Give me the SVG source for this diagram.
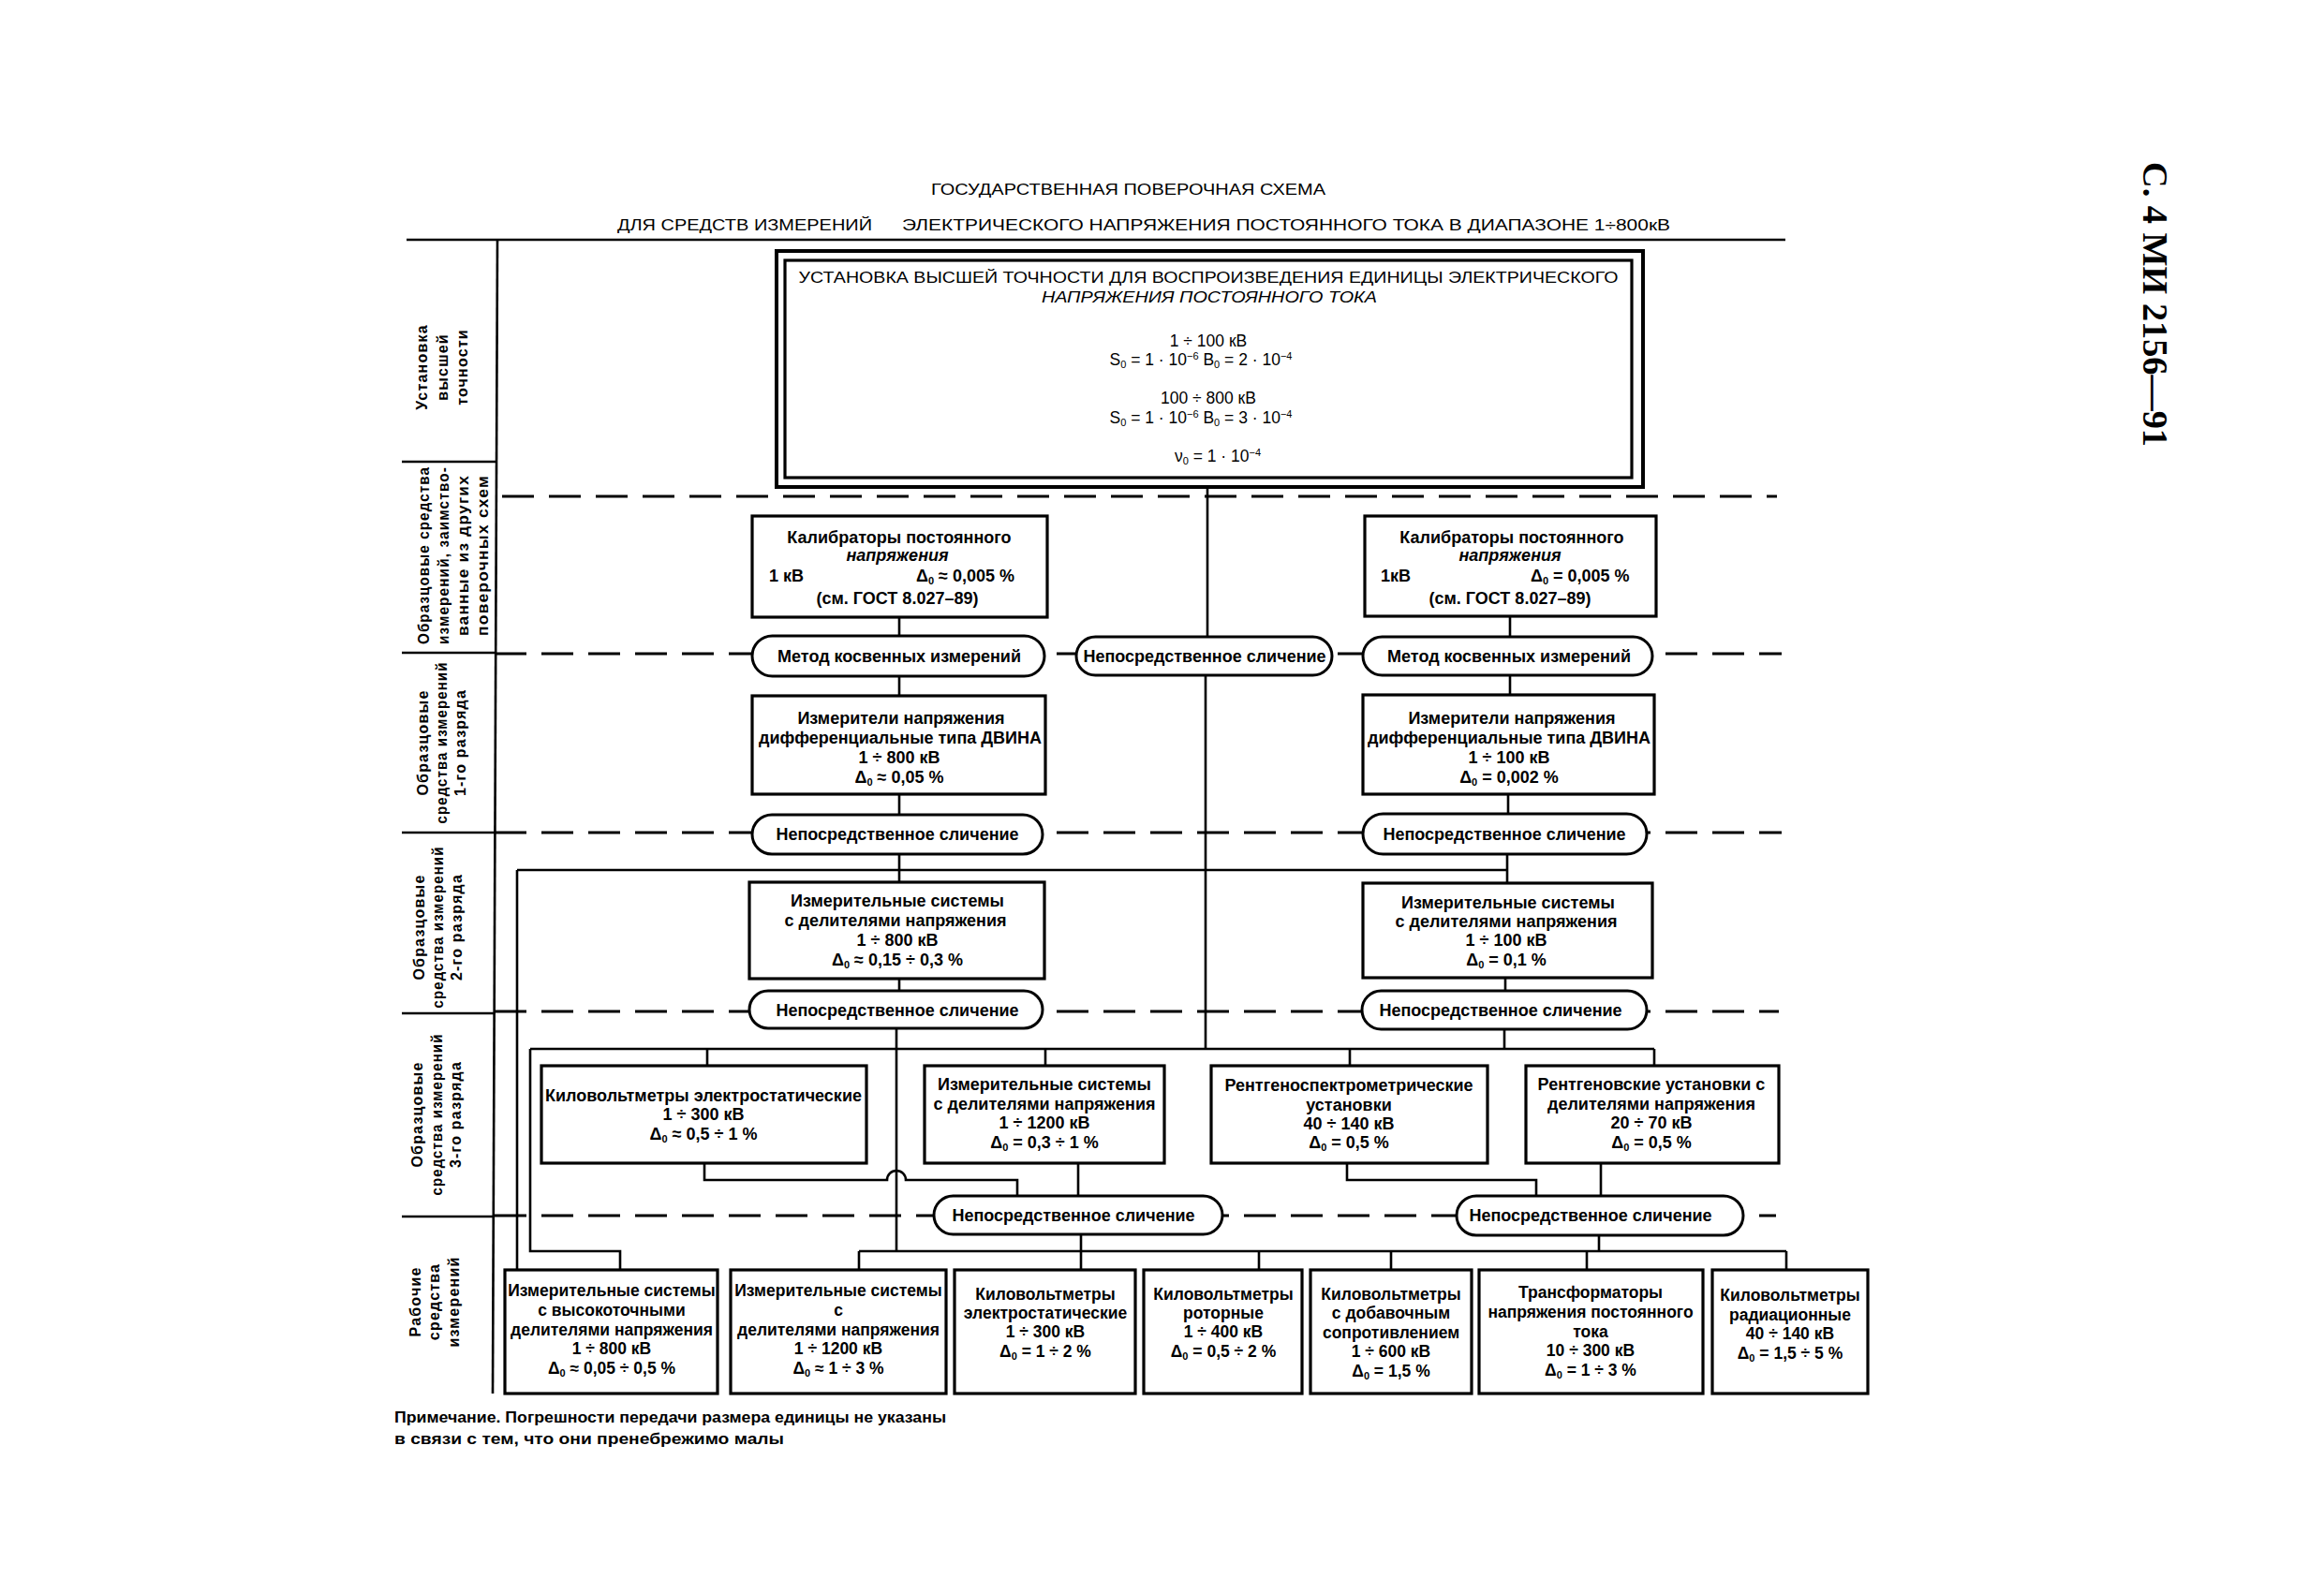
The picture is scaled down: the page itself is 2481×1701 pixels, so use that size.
<svg xmlns="http://www.w3.org/2000/svg" width="2481" height="1701" viewBox="0 0 2481 1701">
<style>
.bg{fill:#fff}
.box{fill:#fff;stroke:#000;stroke-width:3.2}
.oval{fill:#fff;stroke:#000;stroke-width:3}
.con{fill:none;stroke:#000;stroke-width:2.6}
.sol{fill:none;stroke:#000;stroke-width:2.6}
.dash{fill:none;stroke:#000;stroke-width:2.8;stroke-dasharray:34 16}
text{font-family:"Liberation Sans",Arial,sans-serif;fill:#000}
.t{font-size:18px;font-weight:bold;text-anchor:middle}
.tl{font-size:18px;font-weight:bold}
.w .t{font-size:17.5px}
.h{font-size:17px;text-anchor:middle}
.hs{font-size:17.5px;text-anchor:middle}
.ti{font-size:17px}
.lbl{font-size:16px;font-weight:bold;letter-spacing:1.2px;text-anchor:middle}
.note{font-size:16px;font-weight:bold}
.hdr{font-family:"Liberation Serif","Times New Roman",serif;font-size:38px;font-weight:bold}
.it{font-style:italic}
.s{font-size:11px}
</style>
<rect class="bg" x="0" y="0" width="2481" height="1701"/>

<g id="header">
<text class="hdr" transform="translate(2288,173) rotate(90)" textLength="304" lengthAdjust="spacingAndGlyphs">С. 4 МИ 2156—91</text>
</g>

<g id="title">
<text class="ti" x="994" y="208" textLength="421" lengthAdjust="spacingAndGlyphs">ГОСУДАРСТВЕННАЯ ПОВЕРОЧНАЯ СХЕМА</text>
<text class="ti" x="659" y="246" textLength="272" lengthAdjust="spacingAndGlyphs">ДЛЯ СРЕДСТВ ИЗМЕРЕНИЙ</text>
<text class="ti" x="963" y="246" textLength="820" lengthAdjust="spacingAndGlyphs">ЭЛЕКТРИЧЕСКОГО НАПРЯЖЕНИЯ ПОСТОЯННОГО ТОКА В ДИАПАЗОНЕ 1÷800кВ</text>
</g>

<g id="grid">
<path class="sol" d="M434 256 H1906"/>
<path class="sol" d="M531 256 L526 1488"/>
<path class="sol" d="M429 493 H531 M429 697 H528 M429 889 H528 M429 1082 H528 M429 1299 H528"/>
<path class="dash" d="M536 530 H1897"/>
<path class="dash" d="M528 698 H1902"/>
<path class="dash" d="M528 889 H1902"/>
<path class="dash" d="M528 1080 H1899"/>
<path class="dash" d="M528 1298 H1896"/>
</g>

<g id="row-labels">
<g id="label-1">
<text class="lbl" transform="translate(456,392) rotate(-90)">Установка</text>
<text class="lbl" transform="translate(478,392) rotate(-90)">высшей</text>
<text class="lbl" transform="translate(499,392) rotate(-90)">точности</text>
</g>
<g id="label-2">
<text class="lbl" transform="translate(458,593) rotate(-90)" textLength="190" lengthAdjust="spacingAndGlyphs">Образцовые средства</text>
<text class="lbl" transform="translate(479,593) rotate(-90)" textLength="190" lengthAdjust="spacingAndGlyphs">измерений, заимство-</text>
<text class="lbl" transform="translate(500,593) rotate(-90)" textLength="172" lengthAdjust="spacingAndGlyphs">ванные из других</text>
<text class="lbl" transform="translate(521,593) rotate(-90)" textLength="172" lengthAdjust="spacingAndGlyphs">поверочных схем</text>
</g>
<g id="label-3">
<text class="lbl" transform="translate(457,793) rotate(-90)">Образцовые</text>
<text class="lbl" transform="translate(477,793) rotate(-90)" textLength="173" lengthAdjust="spacingAndGlyphs">средства измерений</text>
<text class="lbl" transform="translate(497,793) rotate(-90)">1-го разряда</text>
</g>
<g id="label-4">
<text class="lbl" transform="translate(453,990) rotate(-90)">Образцовые</text>
<text class="lbl" transform="translate(473,990) rotate(-90)" textLength="173" lengthAdjust="spacingAndGlyphs">средства измерений</text>
<text class="lbl" transform="translate(493,990) rotate(-90)">2-го разряда</text>
</g>
<g id="label-5">
<text class="lbl" transform="translate(451,1190) rotate(-90)">Образцовые</text>
<text class="lbl" transform="translate(472,1190) rotate(-90)" textLength="173" lengthAdjust="spacingAndGlyphs">средства измерений</text>
<text class="lbl" transform="translate(492,1190) rotate(-90)">3-го разряда</text>
</g>
<g id="label-6">
<text class="lbl" transform="translate(449,1390) rotate(-90)">Рабочие</text>
<text class="lbl" transform="translate(469,1390) rotate(-90)">средства</text>
<text class="lbl" transform="translate(490,1390) rotate(-90)">измерений</text>
</g>
</g>

<g id="connectors">
<path class="con" d="M1289 520 V679"/>
<path class="con" d="M1287 721 V1120"/>
<path class="con" d="M960 659 V679 M960 722 V743 M960 848 V870 M960 912 V942 M960 1045 V1058"/>
<path class="con" d="M957 1098 V1336"/>
<path class="con" d="M1612 658 V680 M1612 721 V742 M1610 848 V869 M1609 912 V943 M1607 1044 V1058 M1606 1099 V1120"/>
<path class="con" d="M552 929 H1609 M552 929 V1356"/>
<path class="con" d="M566 1120 H1766 M566 1120 V1336 H662 V1356"/>
<path class="con" d="M755 1120 V1138 M1116 1120 V1138 M1441 1120 V1138 M1766 1120 V1138"/>
<path class="con" d="M752 1242 V1260 H947 A10 10 0 0 1 967 1260 H1086 V1277"/>
<path class="con" d="M1151 1242 V1277"/>
<path class="con" d="M1438 1242 V1260 H1640 V1277"/>
<path class="con" d="M1709 1242 V1277"/>
<path class="con" d="M1154 1318 V1356 M1707 1319 V1336"/>
<path class="con" d="M917 1336 H1907 M917 1336 V1356 M1344 1336 V1356 M1485 1336 V1356 M1694 1336 V1356 M1907 1336 V1356"/>
</g>

<g id="n-top">
<rect class="box" x="829" y="268" width="925" height="252" style="stroke-width:4"/>
<rect class="box" x="838" y="278" width="904" height="232"/>
<text class="h" x="1290" y="302" textLength="875" lengthAdjust="spacingAndGlyphs">УСТАНОВКА ВЫСШЕЙ ТОЧНОСТИ ДЛЯ ВОСПРОИЗВЕДЕНИЯ ЕДИНИЦЫ ЭЛЕКТРИЧЕСКОГО</text>
<text class="h it" x="1291" y="323" textLength="358" lengthAdjust="spacingAndGlyphs">НАПРЯЖЕНИЯ ПОСТОЯННОГО ТОКА</text>
<text class="hs" x="1290" y="370">1 ÷ 100 кВ</text>
<text class="hs" x="1282" y="390">S<tspan class="s" baseline-shift="-3">0</tspan> = 1 · 10<tspan class="s" baseline-shift="6">−6</tspan>  B<tspan class="s" baseline-shift="-3">0</tspan> = 2 · 10<tspan class="s" baseline-shift="6">−4</tspan></text>
<text class="hs" x="1290" y="431">100 ÷ 800 кВ</text>
<text class="hs" x="1282" y="452">S<tspan class="s" baseline-shift="-3">0</tspan> = 1 · 10<tspan class="s" baseline-shift="6">−6</tspan>  B<tspan class="s" baseline-shift="-3">0</tspan> = 3 · 10<tspan class="s" baseline-shift="6">−4</tspan></text>
<text class="hs" x="1300" y="493">ν<tspan class="s" baseline-shift="-3">0</tspan> = 1 · 10<tspan class="s" baseline-shift="6">−4</tspan></text>
</g>

<g id="n-cal-l">
<rect class="box" x="803" y="551" width="315" height="108"/>
<text class="t" x="960" y="580">Калибраторы постоянного</text>
<text class="t it" x="958" y="599">напряжения</text>
<text class="tl" x="821" y="621">1 кВ</text>
<text class="tl" x="978" y="621">Δ<tspan class="s" baseline-shift="-3">0</tspan> ≈ 0,005 %</text>
<text class="t" x="958" y="645">(см. ГОСТ 8.027–89)</text>
</g>
<g id="n-cal-r">
<rect class="box" x="1457" y="551" width="311" height="107"/>
<text class="t" x="1614" y="580">Калибраторы постоянного</text>
<text class="t it" x="1612" y="599">напряжения</text>
<text class="tl" x="1474" y="621">1кВ</text>
<text class="tl" x="1634" y="621">Δ<tspan class="s" baseline-shift="-3">0</tspan> = 0,005 %</text>
<text class="t" x="1612" y="645">(см. ГОСТ 8.027–89)</text>
</g>

<g id="o-met-l">
<rect class="oval" x="803" y="679" width="312" height="43" rx="21.5"/>
<text class="t" x="960" y="707">Метод косвенных измерений</text>
</g>
<g id="o-cmp-c">
<rect class="oval" x="1149" y="680" width="273" height="41" rx="20.5"/>
<text class="t" x="1286" y="707">Непосредственное сличение</text>
</g>
<g id="o-met-r">
<rect class="oval" x="1455" y="680" width="309" height="41" rx="20.5"/>
<text class="t" x="1611" y="707">Метод косвенных измерений</text>
</g>

<g id="n-dvina-l">
<rect class="box" x="803" y="743" width="313" height="105"/>
<text class="t" x="962" y="773">Измерители напряжения</text>
<text class="t" x="961" y="794">дифференциальные типа ДВИНА</text>
<text class="t" x="960" y="815">1 ÷ 800 кВ</text>
<text class="t" x="960" y="836">Δ<tspan class="s" baseline-shift="-3">0</tspan> ≈ 0,05 %</text>
</g>
<g id="n-dvina-r">
<rect class="box" x="1455" y="742" width="311" height="106"/>
<text class="t" x="1614" y="773">Измерители напряжения</text>
<text class="t" x="1611" y="794">дифференциальные типа ДВИНА</text>
<text class="t" x="1611" y="815">1 ÷ 100 кВ</text>
<text class="t" x="1611" y="836">Δ<tspan class="s" baseline-shift="-3">0</tspan> = 0,002 %</text>
</g>

<g id="o-cmp-l1">
<rect class="oval" x="803" y="870" width="310" height="42" rx="21"/>
<text class="t" x="958" y="897">Непосредственное сличение</text>
</g>
<g id="o-cmp-r1">
<rect class="oval" x="1455" y="869" width="303" height="43" rx="21.5"/>
<text class="t" x="1606" y="897">Непосредственное сличение</text>
</g>

<g id="n-div-l">
<rect class="box" x="800" y="942" width="315" height="103"/>
<text class="t" x="958" y="968">Измерительные системы</text>
<text class="t" x="956" y="989">с делителями напряжения</text>
<text class="t" x="958" y="1010">1 ÷ 800 кВ</text>
<text class="t" x="958" y="1031">Δ<tspan class="s" baseline-shift="-3">0</tspan> ≈ 0,15 ÷ 0,3 %</text>
</g>
<g id="n-div-r">
<rect class="box" x="1455" y="943" width="309" height="101"/>
<text class="t" x="1610" y="970">Измерительные системы</text>
<text class="t" x="1608" y="990">с  делителями напряжения</text>
<text class="t" x="1608" y="1010">1 ÷ 100 кВ</text>
<text class="t" x="1608" y="1031">Δ<tspan class="s" baseline-shift="-3">0</tspan> = 0,1 %</text>
</g>

<g id="o-cmp-l2">
<rect class="oval" x="800" y="1058" width="313" height="40" rx="20"/>
<text class="t" x="958" y="1085">Непосредственное сличение</text>
</g>
<g id="o-cmp-r2">
<rect class="oval" x="1454" y="1058" width="304" height="41" rx="20.5"/>
<text class="t" x="1602" y="1085">Непосредственное сличение</text>
</g>

<g id="n-kv-es">
<rect class="box" x="578" y="1138" width="347" height="104"/>
<text class="t" x="751" y="1176">Киловольтметры электростатические</text>
<text class="t" x="751" y="1196">1 ÷ 300 кВ</text>
<text class="t" x="751" y="1217">Δ<tspan class="s" baseline-shift="-3">0</tspan> ≈ 0,5 ÷ 1 %</text>
</g>
<g id="n-div-1200">
<rect class="box" x="987" y="1138" width="256" height="104"/>
<text class="t" x="1115" y="1164">Измерительные системы</text>
<text class="t" x="1115" y="1185">с делителями напряжения</text>
<text class="t" x="1115" y="1205">1 ÷ 1200 кВ</text>
<text class="t" x="1115" y="1226">Δ<tspan class="s" baseline-shift="-3">0</tspan> = 0,3 ÷ 1 %</text>
</g>
<g id="n-xrs">
<rect class="box" x="1293" y="1138" width="295" height="104"/>
<text class="t" x="1440" y="1165">Рентгеноспектрометрические</text>
<text class="t" x="1440" y="1186">установки</text>
<text class="t" x="1440" y="1206">40 ÷ 140 кВ</text>
<text class="t" x="1440" y="1226">Δ<tspan class="s" baseline-shift="-3">0</tspan> = 0,5 %</text>
</g>
<g id="n-xr">
<rect class="box" x="1629" y="1138" width="270" height="104"/>
<text class="t" x="1763" y="1164">Рентгеновские установки с</text>
<text class="t" x="1763" y="1185">делителями напряжения</text>
<text class="t" x="1763" y="1205">20 ÷ 70 кВ</text>
<text class="t" x="1763" y="1226">Δ<tspan class="s" baseline-shift="-3">0</tspan> = 0,5 %</text>
</g>

<g id="o-cmp-l3">
<rect class="oval" x="997" y="1277" width="308" height="41" rx="20.5"/>
<text class="t" x="1146" y="1304">Непосредственное сличение</text>
</g>
<g id="o-cmp-r3">
<rect class="oval" x="1555" y="1277" width="306" height="42" rx="21"/>
<text class="t" x="1698" y="1304">Непосредственное сличение</text>
</g>

<g id="w-1" class="w">
<rect class="box" x="539" y="1356" width="227" height="132"/>
<text class="t" x="653" y="1384">Измерительные системы</text>
<text class="t" x="653" y="1405">с высокоточными</text>
<text class="t" x="653" y="1426">делителями напряжения</text>
<text class="t" x="653" y="1446">1 ÷ 800 кВ</text>
<text class="t" x="653" y="1467">Δ<tspan class="s" baseline-shift="-3">0</tspan> ≈ 0,05 ÷ 0,5 %</text>
</g>
<g id="w-2" class="w">
<rect class="box" x="780" y="1356" width="230" height="132"/>
<text class="t" x="895" y="1384">Измерительные системы</text>
<text class="t" x="895" y="1405">с</text>
<text class="t" x="895" y="1426">делителями напряжения</text>
<text class="t" x="895" y="1446">1 ÷ 1200 кВ</text>
<text class="t" x="895" y="1467">Δ<tspan class="s" baseline-shift="-3">0</tspan> ≈ 1 ÷ 3 %</text>
</g>
<g id="w-3" class="w">
<rect class="box" x="1019" y="1356" width="193" height="132"/>
<text class="t" x="1116" y="1388">Киловольтметры</text>
<text class="t" x="1116" y="1408">электростатические</text>
<text class="t" x="1116" y="1428">1 ÷ 300 кВ</text>
<text class="t" x="1116" y="1449">Δ<tspan class="s" baseline-shift="-3">0</tspan> = 1 ÷ 2 %</text>
</g>
<g id="w-4" class="w">
<rect class="box" x="1221" y="1356" width="169" height="132"/>
<text class="t" x="1306" y="1388">Киловольтметры</text>
<text class="t" x="1306" y="1408">роторные</text>
<text class="t" x="1306" y="1428">1 ÷ 400 кВ</text>
<text class="t" x="1306" y="1449">Δ<tspan class="s" baseline-shift="-3">0</tspan> = 0,5 ÷ 2 %</text>
</g>
<g id="w-5" class="w">
<rect class="box" x="1399" y="1356" width="172" height="132"/>
<text class="t" x="1485" y="1388">Киловольтметры</text>
<text class="t" x="1485" y="1408">с добавочным</text>
<text class="t" x="1485" y="1429">сопротивлением</text>
<text class="t" x="1485" y="1449">1 ÷ 600 кВ</text>
<text class="t" x="1485" y="1470">Δ<tspan class="s" baseline-shift="-3">0</tspan> = 1,5 %</text>
</g>
<g id="w-6" class="w">
<rect class="box" x="1579" y="1356" width="239" height="132"/>
<text class="t" x="1698" y="1386">Трансформаторы</text>
<text class="t" x="1698" y="1407">напряжения постоянного</text>
<text class="t" x="1698" y="1428">тока</text>
<text class="t" x="1698" y="1448">10 ÷ 300 кВ</text>
<text class="t" x="1698" y="1469">Δ<tspan class="s" baseline-shift="-3">0</tspan> = 1 ÷ 3 %</text>
</g>
<g id="w-7" class="w">
<rect class="box" x="1828" y="1356" width="166" height="132"/>
<text class="t" x="1911" y="1389">Киловольтметры</text>
<text class="t" x="1911" y="1410">радиационные</text>
<text class="t" x="1911" y="1430">40 ÷ 140 кВ</text>
<text class="t" x="1911" y="1451">Δ<tspan class="s" baseline-shift="-3">0</tspan> = 1,5 ÷ 5 %</text>
</g>

<g id="note">
<text class="note" x="421" y="1519" textLength="589" lengthAdjust="spacingAndGlyphs">Примечание. Погрешности передачи  размера единицы не указаны</text>
<text class="note" x="421" y="1542" textLength="416" lengthAdjust="spacingAndGlyphs">в связи с тем, что они  пренебрежимо   малы</text>
</g>
</svg>
